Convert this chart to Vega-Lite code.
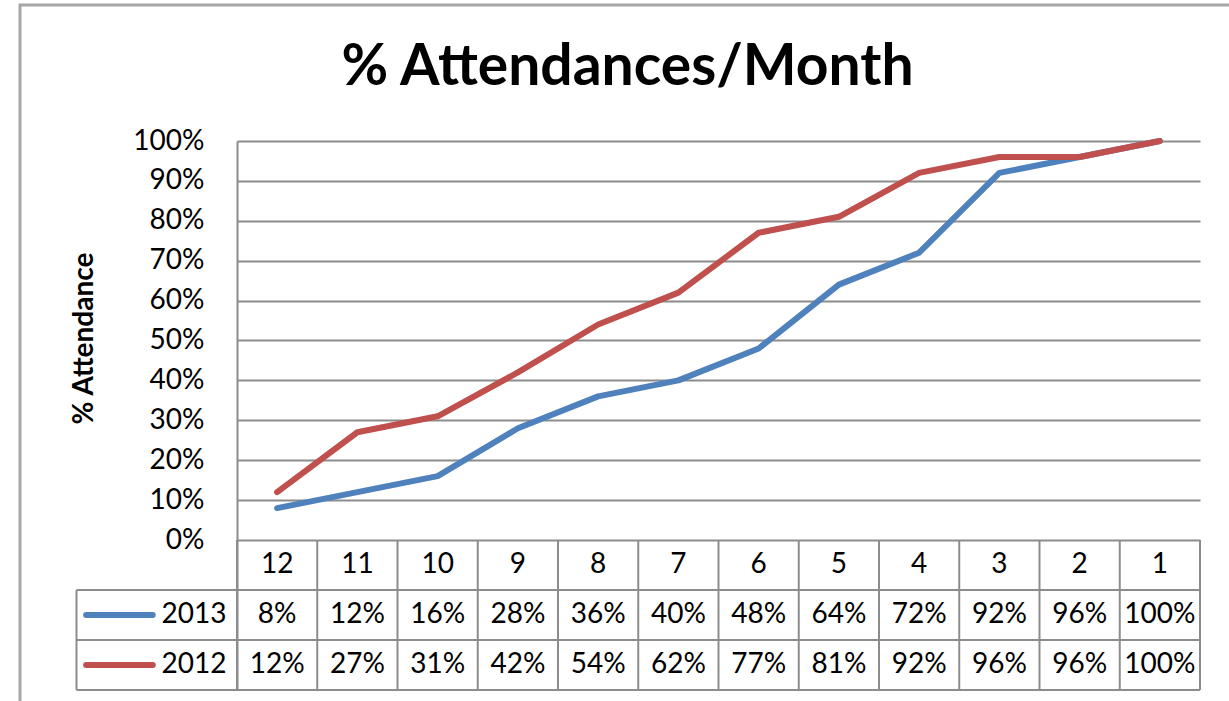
{
  "$schema": "https://vega.github.io/schema/vega-lite/v6.json",
  "width": 963,
  "height": 549,
  "autosize": {"type": "none"},
  "padding": {"left": 237, "top": 141, "right": 29, "bottom": 11},
  "background": "white",
  "config": {
    "font": "Lato",
    "view": {"stroke": null},
    "axisY": {
      "grid": true,
      "gridColor": "#8c8c8c",
      "gridWidth": 2,
      "domain": true,
      "domainColor": "#8c8c8c",
      "domainWidth": 2,
      "ticks": false,
      "labelPadding": 33,
      "labelFont": "Lato",
      "labelFontSize": 28,
      "labelColor": "#000000",
      "labelOverlap": false,
      "labelFlush": false,
      "titleFont": "Lato",
      "titleFontSize": 28,
      "titleFontWeight": "bold",
      "titleColor": "#000000",
      "titleX": -153,
      "titleY": 197,
      "titleAngle": 270,
      "titleAlign": "center",
      "titleBaseline": "middle"
    }
  },
  "datasets": {
    "attendance": [
      {"month": 12, "year": "2013", "value": 0.08},
      {"month": 11, "year": "2013", "value": 0.12},
      {"month": 10, "year": "2013", "value": 0.16},
      {"month": 9, "year": "2013", "value": 0.28},
      {"month": 8, "year": "2013", "value": 0.36},
      {"month": 7, "year": "2013", "value": 0.40},
      {"month": 6, "year": "2013", "value": 0.48},
      {"month": 5, "year": "2013", "value": 0.64},
      {"month": 4, "year": "2013", "value": 0.72},
      {"month": 3, "year": "2013", "value": 0.92},
      {"month": 2, "year": "2013", "value": 0.96},
      {"month": 1, "year": "2013", "value": 1.00},
      {"month": 12, "year": "2012", "value": 0.12},
      {"month": 11, "year": "2012", "value": 0.27},
      {"month": 10, "year": "2012", "value": 0.31},
      {"month": 9, "year": "2012", "value": 0.42},
      {"month": 8, "year": "2012", "value": 0.54},
      {"month": 7, "year": "2012", "value": 0.62},
      {"month": 6, "year": "2012", "value": 0.77},
      {"month": 5, "year": "2012", "value": 0.81},
      {"month": 4, "year": "2012", "value": 0.92},
      {"month": 3, "year": "2012", "value": 0.96},
      {"month": 2, "year": "2012", "value": 0.96},
      {"month": 1, "year": "2012", "value": 1.00}
    ],
    "one": [{}]
  },
  "layer": [
    {
      "data": {"name": "attendance"},
      "mark": {"type": "line", "strokeWidth": 6, "strokeCap": "round", "strokeJoin": "round"},
      "encoding": {
        "x": {"field": "month", "type": "quantitative", "scale": {"domain": [12.5, 0.5], "nice": false, "zero": false}, "axis": null},
        "y": {"field": "value", "type": "quantitative", "scale": {"domain": [-0.37594, 1], "nice": false, "zero": false}, "axis": {"values": [0, 0.1, 0.2, 0.3, 0.4, 0.5, 0.6, 0.7, 0.8, 0.9, 1], "format": ".0%", "title": "% Attendance"}},
        "color": {"field": "year", "type": "nominal", "scale": {"domain": ["2013", "2012"], "range": ["#4F81BD", "#C0504D"]}, "legend": null}
      }
    },
    {
      "data": {"name": "one"},
      "mark": {"type": "rect", "filled": false, "stroke": "#a6a6a6", "strokeWidth": 3},
      "encoding": {
        "x": {"datum": 15.204, "type": "quantitative", "scale": {"domain": [12.5, 0.5], "nice": false, "zero": false}, "axis": null},
        "x2": {"datum": -0.6},
        "y": {"datum": 1.3409, "type": "quantitative", "scale": {"domain": [-0.37594, 1], "nice": false, "zero": false}, "axis": {"values": [0, 0.1, 0.2, 0.3, 0.4, 0.5, 0.6, 0.7, 0.8, 0.9, 1], "format": ".0%", "title": "% Attendance"}},
        "y2": {"datum": -0.6}
      }
    },
    {
      "data": {"name": "attendance"},
      "transform": [{"filter": "datum.year === '2013'"}],
      "mark": {"type": "rule", "stroke": "#8c8c8c", "strokeWidth": 2, "xOffset": -40.125},
      "encoding": {
        "x": {"field": "month", "type": "quantitative", "scale": {"domain": [12.5, 0.5], "nice": false, "zero": false}, "axis": null},
        "y": {"datum": 0, "type": "quantitative", "scale": {"domain": [-0.37594, 1], "nice": false, "zero": false}, "axis": {"values": [0, 0.1, 0.2, 0.3, 0.4, 0.5, 0.6, 0.7, 0.8, 0.9, 1], "format": ".0%", "title": "% Attendance"}},
        "y2": {"datum": -0.37594}
      }
    },
    {
      "data": {"name": "one"},
      "mark": {"type": "rule", "stroke": "#8c8c8c", "strokeWidth": 2},
      "encoding": {
        "x": {"datum": 0.5, "type": "quantitative", "scale": {"domain": [12.5, 0.5], "nice": false, "zero": false}, "axis": null},
        "y": {"datum": 0, "type": "quantitative", "scale": {"domain": [-0.37594, 1], "nice": false, "zero": false}, "axis": {"values": [0, 0.1, 0.2, 0.3, 0.4, 0.5, 0.6, 0.7, 0.8, 0.9, 1], "format": ".0%", "title": "% Attendance"}},
        "y2": {"datum": -0.37594}
      }
    },
    {
      "data": {"name": "one"},
      "mark": {"type": "rule", "stroke": "#8c8c8c", "strokeWidth": 2},
      "encoding": {
        "x": {"datum": 14.5, "type": "quantitative", "scale": {"domain": [12.5, 0.5], "nice": false, "zero": false}, "axis": null},
        "y": {"datum": -0.1253, "type": "quantitative", "scale": {"domain": [-0.37594, 1], "nice": false, "zero": false}, "axis": {"values": [0, 0.1, 0.2, 0.3, 0.4, 0.5, 0.6, 0.7, 0.8, 0.9, 1], "format": ".0%", "title": "% Attendance"}},
        "y2": {"datum": -0.37594}
      }
    },
    {
      "data": {"name": "one"},
      "mark": {"type": "rule", "stroke": "#8c8c8c", "strokeWidth": 2},
      "encoding": {
        "x": {"datum": 14.5, "type": "quantitative", "scale": {"domain": [12.5, 0.5], "nice": false, "zero": false}, "axis": null},
        "x2": {"datum": 0.5},
        "y": {"datum": -0.1253, "type": "quantitative", "scale": {"domain": [-0.37594, 1], "nice": false, "zero": false}, "axis": {"values": [0, 0.1, 0.2, 0.3, 0.4, 0.5, 0.6, 0.7, 0.8, 0.9, 1], "format": ".0%", "title": "% Attendance"}}
      }
    },
    {
      "data": {"name": "one"},
      "mark": {"type": "rule", "stroke": "#8c8c8c", "strokeWidth": 2},
      "encoding": {
        "x": {"datum": 14.5, "type": "quantitative", "scale": {"domain": [12.5, 0.5], "nice": false, "zero": false}, "axis": null},
        "x2": {"datum": 0.5},
        "y": {"datum": -0.2506, "type": "quantitative", "scale": {"domain": [-0.37594, 1], "nice": false, "zero": false}, "axis": {"values": [0, 0.1, 0.2, 0.3, 0.4, 0.5, 0.6, 0.7, 0.8, 0.9, 1], "format": ".0%", "title": "% Attendance"}}
      }
    },
    {
      "data": {"name": "one"},
      "mark": {"type": "rule", "stroke": "#8c8c8c", "strokeWidth": 2},
      "encoding": {
        "x": {"datum": 14.5, "type": "quantitative", "scale": {"domain": [12.5, 0.5], "nice": false, "zero": false}, "axis": null},
        "x2": {"datum": 0.5},
        "y": {"datum": -0.37594, "type": "quantitative", "scale": {"domain": [-0.37594, 1], "nice": false, "zero": false}, "axis": {"values": [0, 0.1, 0.2, 0.3, 0.4, 0.5, 0.6, 0.7, 0.8, 0.9, 1], "format": ".0%", "title": "% Attendance"}}
      }
    },
    {
      "data": {"name": "attendance"},
      "transform": [{"filter": "datum.year === '2013'"}],
      "mark": {"type": "text", "fontSize": 28, "color": "#000000", "baseline": "middle", "align": "center"},
      "encoding": {
        "x": {"field": "month", "type": "quantitative", "scale": {"domain": [12.5, 0.5], "nice": false, "zero": false}, "axis": null},
        "y": {"datum": -0.0627, "type": "quantitative", "scale": {"domain": [-0.37594, 1], "nice": false, "zero": false}, "axis": {"values": [0, 0.1, 0.2, 0.3, 0.4, 0.5, 0.6, 0.7, 0.8, 0.9, 1], "format": ".0%", "title": "% Attendance"}},
        "text": {"field": "month", "type": "nominal"}
      }
    },
    {
      "data": {"name": "attendance"},
      "transform": [{"filter": "datum.year === '2013'"}],
      "mark": {"type": "text", "fontSize": 28, "color": "#000000", "baseline": "middle", "align": "center"},
      "encoding": {
        "x": {"field": "month", "type": "quantitative", "scale": {"domain": [12.5, 0.5], "nice": false, "zero": false}, "axis": null},
        "y": {"datum": -0.188, "type": "quantitative", "scale": {"domain": [-0.37594, 1], "nice": false, "zero": false}, "axis": {"values": [0, 0.1, 0.2, 0.3, 0.4, 0.5, 0.6, 0.7, 0.8, 0.9, 1], "format": ".0%", "title": "% Attendance"}},
        "text": {"field": "value", "type": "quantitative", "format": ".0%"}
      }
    },
    {
      "data": {"name": "attendance"},
      "transform": [{"filter": "datum.year === '2012'"}],
      "mark": {"type": "text", "fontSize": 28, "color": "#000000", "baseline": "middle", "align": "center"},
      "encoding": {
        "x": {"field": "month", "type": "quantitative", "scale": {"domain": [12.5, 0.5], "nice": false, "zero": false}, "axis": null},
        "y": {"datum": -0.3133, "type": "quantitative", "scale": {"domain": [-0.37594, 1], "nice": false, "zero": false}, "axis": {"values": [0, 0.1, 0.2, 0.3, 0.4, 0.5, 0.6, 0.7, 0.8, 0.9, 1], "format": ".0%", "title": "% Attendance"}},
        "text": {"field": "value", "type": "quantitative", "format": ".0%"}
      }
    },
    {
      "data": {"name": "one"},
      "mark": {"type": "rule", "stroke": "#4F81BD", "strokeWidth": 6, "strokeCap": "round"},
      "encoding": {
        "x": {"datum": 14.38, "type": "quantitative", "scale": {"domain": [12.5, 0.5], "nice": false, "zero": false}, "axis": null},
        "x2": {"datum": 13.55},
        "y": {"datum": -0.188, "type": "quantitative", "scale": {"domain": [-0.37594, 1], "nice": false, "zero": false}, "axis": {"values": [0, 0.1, 0.2, 0.3, 0.4, 0.5, 0.6, 0.7, 0.8, 0.9, 1], "format": ".0%", "title": "% Attendance"}}
      }
    },
    {
      "data": {"name": "one"},
      "mark": {"type": "rule", "stroke": "#C0504D", "strokeWidth": 6, "strokeCap": "round"},
      "encoding": {
        "x": {"datum": 14.38, "type": "quantitative", "scale": {"domain": [12.5, 0.5], "nice": false, "zero": false}, "axis": null},
        "x2": {"datum": 13.55},
        "y": {"datum": -0.3133, "type": "quantitative", "scale": {"domain": [-0.37594, 1], "nice": false, "zero": false}, "axis": {"values": [0, 0.1, 0.2, 0.3, 0.4, 0.5, 0.6, 0.7, 0.8, 0.9, 1], "format": ".0%", "title": "% Attendance"}}
      }
    },
    {
      "data": {"name": "one"},
      "mark": {"type": "text", "text": "2013", "fontSize": 28, "color": "#000000", "baseline": "middle", "align": "right"},
      "encoding": {
        "x": {"datum": 12.63, "type": "quantitative", "scale": {"domain": [12.5, 0.5], "nice": false, "zero": false}, "axis": null},
        "y": {"datum": -0.188, "type": "quantitative", "scale": {"domain": [-0.37594, 1], "nice": false, "zero": false}, "axis": {"values": [0, 0.1, 0.2, 0.3, 0.4, 0.5, 0.6, 0.7, 0.8, 0.9, 1], "format": ".0%", "title": "% Attendance"}}
      }
    },
    {
      "data": {"name": "one"},
      "mark": {"type": "text", "text": "2012", "fontSize": 28, "color": "#000000", "baseline": "middle", "align": "right"},
      "encoding": {
        "x": {"datum": 12.63, "type": "quantitative", "scale": {"domain": [12.5, 0.5], "nice": false, "zero": false}, "axis": null},
        "y": {"datum": -0.3133, "type": "quantitative", "scale": {"domain": [-0.37594, 1], "nice": false, "zero": false}, "axis": {"values": [0, 0.1, 0.2, 0.3, 0.4, 0.5, 0.6, 0.7, 0.8, 0.9, 1], "format": ".0%", "title": "% Attendance"}}
      }
    },
    {
      "data": {"name": "one"},
      "mark": {"type": "text", "text": "% Attendances/Month", "fontSize": 57, "fontWeight": "bold", "color": "#000000", "baseline": "alphabetic", "align": "center"},
      "encoding": {
        "x": {"datum": 7.634, "type": "quantitative", "scale": {"domain": [12.5, 0.5], "nice": false, "zero": false}, "axis": null},
        "y": {"datum": 1.1404, "type": "quantitative", "scale": {"domain": [-0.37594, 1], "nice": false, "zero": false}, "axis": {"values": [0, 0.1, 0.2, 0.3, 0.4, 0.5, 0.6, 0.7, 0.8, 0.9, 1], "format": ".0%", "title": "% Attendance"}}
      }
    }
  ]
}
